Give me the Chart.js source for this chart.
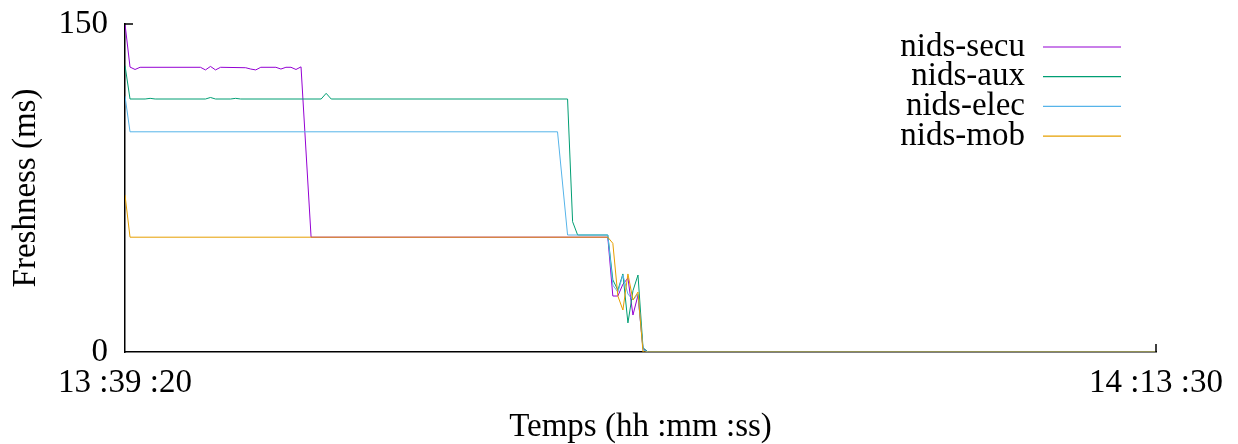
<!DOCTYPE html>
<html>
<head>
<meta charset="utf-8">
<script src="https://cdn.jsdelivr.net/npm/chart.js@4"></script>
<style>
  html, body { margin: 0; padding: 0; background: #fff; }
  #wrap { width: 1238px; height: 444px; }
</style>
</head>
<body>
<div id="wrap"><canvas id="fresh"></canvas></div>
<script>
// series: seconds since 13:39:20 -> freshness (ms)
const secuT = [0, 10, 20, 30, 150, 160, 170, 180, 190, 240, 250, 260, 270, 300, 310, 320, 330, 340, 350, 370, 960, 970, 980, 990, 1000, 1010, 1020, 1030, 1040, 2050];
const secuV = [150, 130.3, 129.2, 130.2, 130.2, 129, 130.6, 129, 130.2, 130, 129.4, 129, 130.2, 130.2, 129.4, 130.2, 130.2, 129.2, 130.4, 52.5, 52.5, 25.6, 25.6, 31, 33.8, 16.9, 26, 1.5, 0, 0];

const auxT = [0, 10, 40, 50, 60, 160, 170, 180, 210, 220, 230, 390, 400, 410, 880, 890, 900, 960, 970, 980, 990, 1000, 1010, 1020, 1030, 1040, 2050];
const auxV = [131, 115.7, 115.7, 116.0, 115.7, 115.7, 116.4, 115.7, 115.7, 116.0, 115.7, 115.7, 118.3, 115.7, 115.7, 59.6, 53.5, 53.5, 33, 28.3, 35.7, 13.3, 28, 35.2, 2, 0, 0];

const elecT = [0, 10, 860, 880, 960, 970, 980, 990, 1000, 1010, 1020, 1030, 1040, 2050];
const elecV = [117, 100.7, 100.7, 53.5, 53.5, 30.6, 27.4, 35.2, 26.5, 23.8, 26.5, 1, 0, 0];

const mobT = [0, 10, 960, 970, 980, 990, 1000, 1010, 1020, 1030, 1040, 2050];
const mobV = [71.8, 52.5, 52.5, 49.7, 25.6, 19.2, 35.7, 23.8, 27.4, 0, 0, 0];

const seriesNames = ['nids-secu', 'nids-aux', 'nids-elec', 'nids-mob'];
const seriesColors = ['#9400d3', '#009e73', '#56b4e9', '#e69f00'];

const xTickValues = [0, 2050];
const xTickLabels = ['13 :39 :20', '14 :13 :30'];
const yTickValues = [0, 150];

const FONT = '"Liberation Serif", "DejaVu Serif", serif';

function pts(ts, vs) {
  return ts.map((t, i) => ({ x: t, y: vs[i] }));
}

// gnuplot-style key (text on the left, sample on the right) + inward end ticks
const keyPlugin = {
  id: 'gpKey',
  afterDraw(chart) {
    const ctx = chart.ctx;
    const area = chart.chartArea;
    ctx.save();

    ctx.strokeStyle = '#000';
    ctx.lineWidth = 1.5;
    ctx.beginPath();
    ctx.moveTo(area.left, area.top);
    ctx.lineTo(area.left + 8, area.top);
    ctx.moveTo(area.right, area.bottom);
    ctx.lineTo(area.right, area.bottom - 8);
    ctx.stroke();

    ctx.font = '33px ' + FONT;
    ctx.textAlign = 'right';
    ctx.textBaseline = 'middle';
    seriesNames.forEach((name, i) => {
      const y = 47 + i * 29.7;
      ctx.fillStyle = '#000';
      ctx.fillText(name, 1025, y);
      ctx.beginPath();
      ctx.strokeStyle = seriesColors[i];
      ctx.lineWidth = 1.2;
      ctx.moveTo(1043, y);
      ctx.lineTo(1121, y);
      ctx.stroke();
    });
    ctx.restore();
  }
};

const allSeries = [[secuT, secuV], [auxT, auxV], [elecT, elecV], [mobT, mobV]];

new Chart(document.getElementById('fresh'), {
  type: 'line',
  data: {
    datasets: allSeries.map((s, i) => ({
      label: seriesNames[i],
      data: pts(s[0], s[1]),
      borderColor: seriesColors[i],
      backgroundColor: seriesColors[i],
      borderWidth: 1,
      pointRadius: 0,
      tension: 0,
      fill: false,
      order: 4 - i
    }))
  },
  options: {
    responsive: true,
    maintainAspectRatio: false,
    animation: false,
    layout: { padding: { left: 0, right: 82, top: 24, bottom: 0 } },
    plugins: {
      legend: { display: false },
      tooltip: { enabled: false }
    },
    scales: {
      x: {
        type: 'linear',
        min: 0,
        max: 2050,
        afterBuildTicks: s => { s.ticks = xTickValues.map(v => ({ value: v })); },
        afterFit: s => { s.height = 92; s.paddingLeft = 0; s.paddingRight = 0; },
        grid: { display: false, drawTicks: false },
        border: { display: true, color: '#000', width: 1.5 },
        ticks: {
          color: '#000',
          font: { family: FONT, size: 33 },
          padding: 12,
          maxRotation: 0,
          autoSkip: false,
          callback: v => xTickLabels[xTickValues.indexOf(v)]
        },
        title: {
          display: true,
          text: 'Temps (hh :mm :ss)',
          color: '#000',
          font: { family: FONT, size: 33, lineHeight: 1 },
          padding: { top: 0, bottom: 0 }
        }
      },
      y: {
        min: 0,
        max: 150,
        afterBuildTicks: s => { s.ticks = yTickValues.map(v => ({ value: v })); },
        afterFit: s => { s.width = 125; s.paddingTop = 0; s.paddingBottom = 0; },
        grid: { display: false, drawTicks: false },
        border: { display: true, color: '#000', width: 1.5 },
        ticks: {
          color: '#000',
          font: { family: FONT, size: 33 },
          padding: 17
        },
        title: {
          display: true,
          text: 'Freshness (ms)',
          color: '#000',
          font: { family: FONT, size: 33, lineHeight: 1 },
          padding: { top: 10, bottom: 0 }
        }
      }
    }
  },
  plugins: [keyPlugin]
});
</script>
</body>
</html>
